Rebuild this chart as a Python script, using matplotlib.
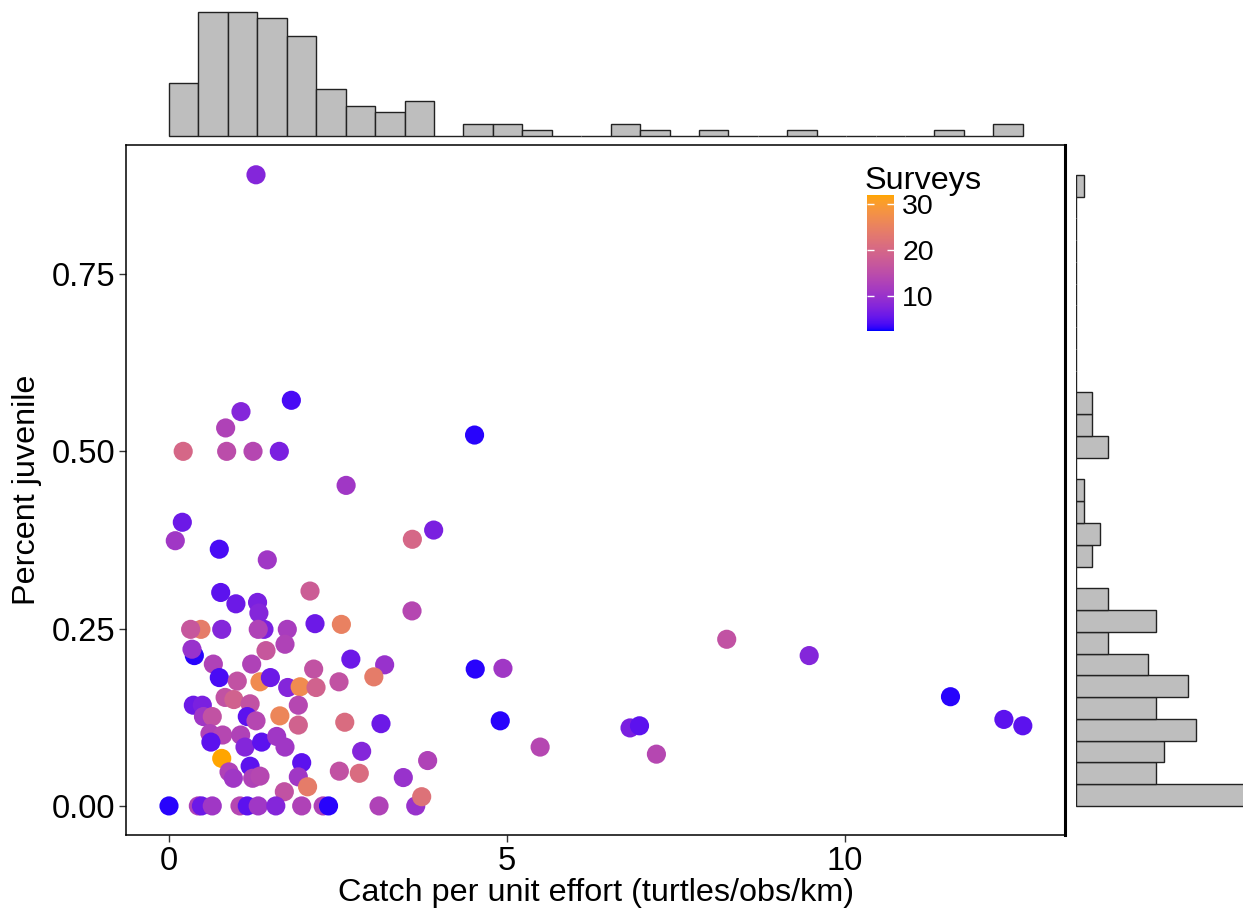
import numpy as np
import matplotlib
matplotlib.use("Agg")
import matplotlib.pyplot as plt
from matplotlib.colors import ListedColormap, Normalize

plt.rcParams['font.family'] = ['Liberation Sans', 'DejaVu Sans']

# scatter data: catch per unit effort, percent juvenile, number of surveys
cpue = [1.287, 1.81, 1.065, 0.838, 0.21, 0.853, 1.243, 1.632, 2.62, 0.197,
        0.093, 0.744, 1.454, 3.60, 3.915, 4.52, 4.53, 4.94, 4.90, 5.49,
        6.82, 6.96, 7.21, 8.25, 9.47, 11.56, 12.35, 12.63,
        0.765, 0.99, 1.31, 1.33, 2.086, 0.473, 0.32, 0.78, 1.405, 1.32,
        1.75, 2.16, 2.55, 1.716, 1.435, 0.375, 0.34, 0.656, 1.223, 0.744,
        1.01, 1.346, 1.50, 1.756, 1.94, 2.14, 2.69, 3.19, 3.595, 3.03,
        2.515, 2.175,
        0.36, 0.493, 0.51, 0.64, 0.83, 0.96, 1.2, 1.913, 1.64, 1.913,
        1.158, 1.287, 0.606, 0.794, 0.62, 1.06, 1.124, 1.37, 1.593, 1.716,
        0.78, 0.888, 0.952, 1.2, 1.238, 1.346, 1.963, 1.913, 1.706, 2.05,
        0.0, 0.434, 0.48, 0.64, 1.05, 1.158, 1.32, 1.58, 1.963, 2.28,
        2.36, 3.107, 3.65,
        2.6, 3.136, 2.85, 3.826, 2.52, 2.815, 3.466, 3.738]
pct_juv = [0.89, 0.572, 0.556, 0.533, 0.50, 0.50, 0.50, 0.50, 0.452, 0.40,
           0.374, 0.362, 0.347, 0.376, 0.389, 0.523, 0.193, 0.194, 0.12, 0.083,
           0.11, 0.113, 0.073, 0.235, 0.212, 0.154, 0.122, 0.113,
           0.301, 0.285, 0.287, 0.272, 0.303, 0.249, 0.249, 0.249, 0.249, 0.249,
           0.249, 0.257, 0.256, 0.228, 0.219, 0.212, 0.221, 0.20, 0.20, 0.181,
           0.176, 0.175, 0.181, 0.167, 0.168, 0.193, 0.207, 0.199, 0.275, 0.182,
           0.175, 0.167,
           0.142, 0.142, 0.126, 0.126, 0.153, 0.15, 0.144, 0.142, 0.127, 0.114,
           0.126, 0.12, 0.102, 0.10, 0.09, 0.10, 0.083, 0.09, 0.098, 0.083,
           0.067, 0.048, 0.039, 0.056, 0.039, 0.042, 0.061, 0.041, 0.02, 0.027,
           0.0, 0.0, 0.0, 0.0, 0.0, 0.0, 0.0, 0.0, 0.0, 0.0,
           0.0, 0.0, 0.0,
           0.118, 0.116, 0.077, 0.064, 0.049, 0.046, 0.04, 0.013]
surveys = [8, 4, 8, 13, 20, 15, 14, 7, 11, 6,
           11, 4, 11, 20, 7, 3, 3, 11, 3, 14,
           7, 5, 14, 16, 8, 3, 5, 5,
           5, 6, 7, 8, 18, 24, 17, 8, 7, 13,
           12, 6, 25, 13, 17, 3, 10, 13, 13, 4,
           16, 27, 6, 8, 27, 16, 6, 10, 14, 24,
           16, 19,
           6, 7, 11, 16, 16, 19, 16, 14, 26, 19,
           5, 14, 13, 14, 5, 13, 8, 5, 11, 11,
           32, 13, 11, 5, 13, 14, 5, 11, 16, 24,
           3, 13, 6, 11, 14, 5, 11, 8, 13, 13,
           3, 13, 10,
           21, 6, 8, 13, 16, 21, 10, 22]

# marginal histogram counts (29 bins each)
cpue_counts = [9, 21, 21, 20, 17, 8, 5, 4, 6, 0, 2, 2, 1, 0, 0, 2, 1, 0, 1, 0,
               0, 1, 0, 0, 0, 0, 1, 0, 2]
juv_counts = [21, 10, 11, 15, 10, 14, 9, 4, 10, 4, 0, 2, 3, 1, 1, 0, 4, 2, 2, 0,
              0, 0, 0, 0, 0, 0, 0, 0, 1]


def srgb_to_lab(c):
    c = np.asarray(c, dtype=float)
    lin = np.where(c <= 0.04045, c / 12.92, ((c + 0.055) / 1.055) ** 2.4)
    M = np.array([[0.4124, 0.3576, 0.1805],
                  [0.2126, 0.7152, 0.0722],
                  [0.0193, 0.1192, 0.9505]])
    xyz = M @ lin / np.array([0.95047, 1.0, 1.08883])
    f = np.where(xyz > 0.008856, np.cbrt(xyz), 7.787 * xyz + 16 / 116)
    return np.array([116 * f[1] - 16, 500 * (f[0] - f[1]), 200 * (f[1] - f[2])])


def lab_to_srgb(lab):
    L, a, b = lab
    fy = (L + 16) / 116
    fx = fy + a / 500
    fz = fy - b / 200
    f = np.array([fx, fy, fz])
    xyz = np.where(f ** 3 > 0.008856, f ** 3, (f - 16 / 116) / 7.787)
    xyz = xyz * np.array([0.95047, 1.0, 1.08883])
    Minv = np.array([[3.2406, -1.5372, -0.4986],
                     [-0.9689, 1.8758, 0.0415],
                     [0.0557, -0.2040, 1.0570]])
    lin = Minv @ xyz
    c = np.where(lin <= 0.0031308, 12.92 * lin, 1.055 * np.abs(lin) ** (1 / 2.4) - 0.055)
    return np.clip(c, 0, 1)


# blue -> orange gradient interpolated in Lab space
lo = srgb_to_lab([0, 0, 1])
hi = srgb_to_lab([1, 165 / 255, 0])
cmap = ListedColormap([lab_to_srgb(lo + (hi - lo) * t) for t in np.linspace(0, 1, 256)])
norm = Normalize(vmin=2.5, vmax=32)

fig = plt.figure(figsize=(12.43, 9.14), dpi=100)
W, H = 1243, 914


def px_axes(x0, y0, x1, y1):
    return fig.add_axes([x0 / W, 1 - y1 / H, (x1 - x0) / W, (y1 - y0) / H])


ax = px_axes(126, 145, 1065, 835)
ax.scatter(cpue, pct_juv, c=surveys, cmap=cmap, norm=norm, s=190, linewidths=0, zorder=3)
ax.set_xlim(-0.636, 13.254)
ax.set_ylim(-0.041, 0.932)
ax.set_xticks([0, 5, 10])
ax.set_yticks([0, 0.25, 0.5, 0.75])
ax.set_yticklabels(["0.00", "0.25", "0.50", "0.75"])
ax.tick_params(labelsize=23.5, length=5, width=1, color='#333333', labelcolor='black', pad=3)
for sp in ax.spines.values():
    sp.set_linewidth(1.1)
ax.spines['right'].set_linewidth(2.2)
ax.set_xlabel("Catch per unit effort (turtles/obs/km)", fontsize=23.3, labelpad=1)
ax.set_ylabel("Percent juvenile", fontsize=23.3, labelpad=7)

# top marginal histogram
x_edges = np.linspace(min(cpue), max(cpue), len(cpue_counts) + 1)
axt = px_axes(126, 12, 1065, 136)
axt.bar(x_edges[:-1], cpue_counts, width=np.diff(x_edges), align='edge',
        color='#bebebe', edgecolor='#222222', linewidth=1.0, clip_on=False)
axt.set_xlim(ax.get_xlim())
axt.set_ylim(0, max(cpue_counts))
axt.axis('off')

# right marginal histogram
y_edges = np.linspace(min(pct_juv), max(pct_juv), len(juv_counts) + 1)
axr = px_axes(1076, 145, 1243, 835)
axr.barh(y_edges[:-1], juv_counts, height=np.diff(y_edges), align='edge',
         color='#bebebe', edgecolor='#222222', linewidth=1.0)
axr.set_ylim(ax.get_ylim())
axr.set_xlim(0, 167 / 8)
axr.axis('off')

# colour legend
cax = px_axes(867, 195, 894, 331)
cb = fig.colorbar(plt.cm.ScalarMappable(norm=norm, cmap=cmap), cax=cax)
cb.outline.set_visible(False)
cb.set_ticks([10, 20, 30])
cax.tick_params(left=True, right=True, direction='in', length=5, width=1,
                color='white', labelsize=20.5, pad=6)
fig.text(865 / W, 1 - 189 / H, "Surveys", fontsize=23.3, ha='left', va='baseline')

fig.savefig("out.png", dpi=100)
